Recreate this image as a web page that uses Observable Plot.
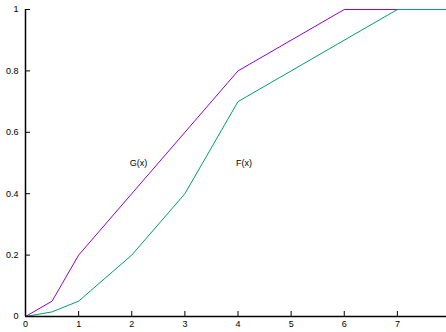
<!DOCTYPE html>
<html>
<head>
<meta charset="utf-8">
<script src="https://cdn.jsdelivr.net/npm/d3@7"></script>
<script src="https://cdn.jsdelivr.net/npm/@observablehq/plot@0.6"></script>
<style>
  html, body { margin: 0; padding: 0; background: #fff; }
  #chart svg { display: block; }
</style>
</head>
<body>
<div id="chart"></div>
<script>
// Piecewise-linear distribution functions G(x) and F(x)
const gX = [0, 0.5, 1, 4, 6, 8];
const gY = [0, 0.05, 0.2, 0.8, 1, 1];
const fX = [0, 0.5, 1, 2, 3, 4, 7, 8];
const fY = [0, 0.015, 0.05, 0.2, 0.4, 0.7, 1, 1];

const xTicks = [0, 1, 2, 3, 4, 5, 6, 7];
const yTicks = [0, 0.2, 0.4, 0.6, 0.8, 1];
const yTickLabels = ["0", "0.2", "0.4", "0.6", "0.8", "1"];

const curveLabels = ["G(x)", "F(x)"];
const labelX = [2, 4];
const labelY = [0.5, 0.5];

const G = gX.map((x, i) => ({x, y: gY[i]}));
const F = fX.map((x, i) => ({x, y: fY[i]}));
const labels = curveLabels.map((t, i) => ({t, x: labelX[i], y: labelY[i]}));

const chart = Plot.plot({
  width: 446,
  height: 332,
  marginLeft: 25,
  marginRight: 0,
  marginTop: 9,
  marginBottom: 16,
  style: {fontFamily: "'Liberation Sans', Arial, sans-serif", fontSize: "9px", color: "#000", background: "#fff"},
  x: {domain: [0, 8], range: [25, 450]},
  y: {domain: [0, 1]},
  marks: [
    Plot.line(G, {x: "x", y: "y", stroke: "#9400d3", strokeWidth: 1}),
    Plot.line(F, {x: "x", y: "y", stroke: "#009e73", strokeWidth: 1}),
    Plot.text(labels, {x: "x", y: "y", text: "t", textAnchor: "start", dx: -2, fill: "#000", fontSize: 9}),
    Plot.axisX({ticks: xTicks, tickSize: -5, tickPadding: 9, label: null, tickFormat: d => String(d), fill: "#000", stroke: "#000"}),
    Plot.axisY({ticks: yTicks, tickSize: -5, tickPadding: 12, label: null, tickFormat: d => yTickLabels[yTicks.indexOf(d)], fill: "#000", stroke: "#000"}),
    Plot.ruleX([0], {stroke: "#000", strokeWidth: 1.5}),
    Plot.ruleY([0], {stroke: "#000", strokeWidth: 1.5})
  ]
});
document.getElementById("chart").appendChild(chart);
</script>
</body>
</html>
